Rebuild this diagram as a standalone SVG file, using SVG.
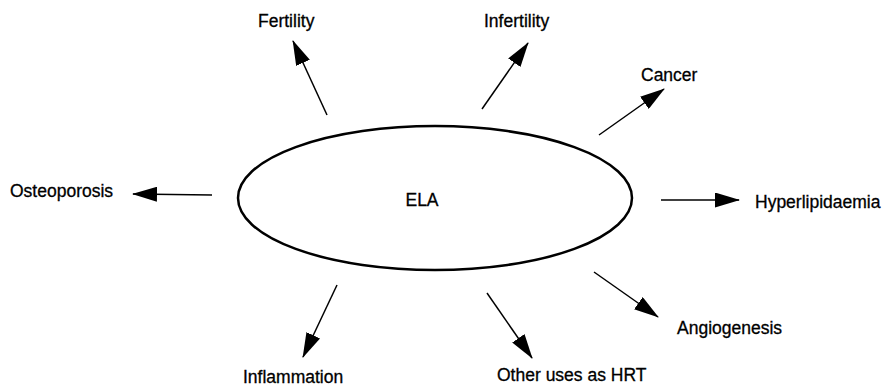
<svg xmlns="http://www.w3.org/2000/svg" width="889" height="386" viewBox="0 0 889 386">
<style>
.lbl{font-family:"Liberation Sans",Arial,sans-serif;font-size:17.5px;fill:#000;stroke:#000;stroke-width:0.3}
.ela{font-family:"Liberation Sans",Arial,sans-serif;font-size:17.5px;fill:#000;stroke:#000;stroke-width:0.3}
.con line{stroke:#000;stroke-width:1.5;marker-end:url(#ah)}
</style>
<defs>
<marker id="ah" viewBox="0 0 25 15" refX="24" refY="7.5" markerWidth="25" markerHeight="15" markerUnits="userSpaceOnUse" orient="auto">
<path d="M0,0 L25,7.5 L0,15 Z" fill="#000"/>
</marker>
</defs>
<rect width="889" height="386" fill="#fff"/>
<g id="ela">
<ellipse cx="435" cy="198" rx="197" ry="72" fill="#fff" stroke="#000" stroke-width="2.5"/>
<text class="ela" x="422" y="206" text-anchor="middle">ELA</text>
</g>
<g id="fertility"><text class="lbl" x="258" y="27">Fertility</text></g>
<g id="infertility"><text class="lbl" x="484" y="27">Infertility</text></g>
<g id="cancer"><text class="lbl" x="641" y="81">Cancer</text></g>
<g id="hyperlipidaemia"><text class="lbl" x="755" y="208">Hyperlipidaemia</text></g>
<g id="angiogenesis"><text class="lbl" x="677" y="334">Angiogenesis</text></g>
<g id="osteoporosis"><text class="lbl" x="10" y="197">Osteoporosis</text></g>
<g id="inflammation"><text class="lbl" x="243" y="383">Inflammation</text></g>
<g id="other"><text class="lbl" x="497" y="381">Other uses as HRT</text></g>
<g id="connectors" class="con">
<line x1="327" y1="115" x2="293" y2="41"/>
<line x1="482" y1="109" x2="528" y2="43"/>
<line x1="599" y1="135" x2="664" y2="89"/>
<line x1="661" y1="200" x2="739" y2="200"/>
<line x1="594" y1="272" x2="658" y2="317"/>
<line x1="212" y1="195" x2="133" y2="194"/>
<line x1="337" y1="285" x2="303" y2="357"/>
<line x1="487" y1="293" x2="532" y2="358"/>
</g>
</svg>
